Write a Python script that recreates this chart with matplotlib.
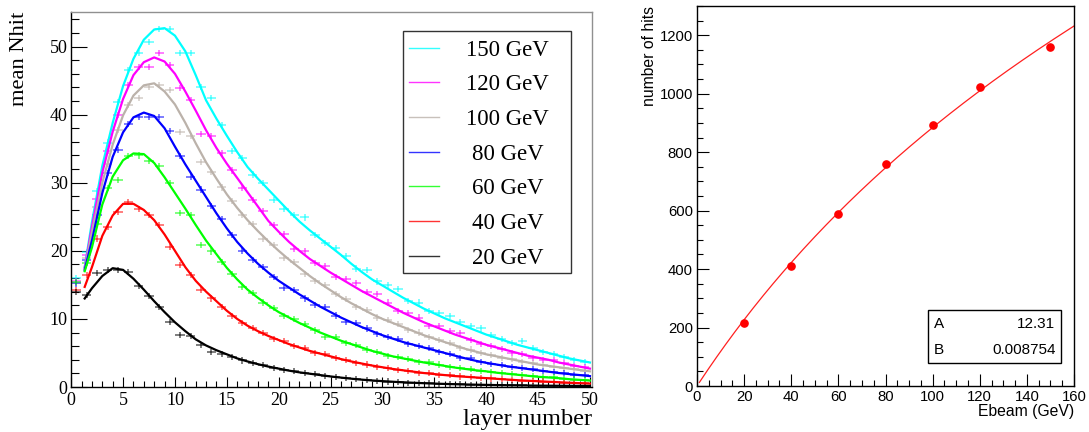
import numpy as np
import matplotlib
matplotlib.use('Agg')
import matplotlib.pyplot as plt
from matplotlib.ticker import MultipleLocator
from matplotlib.patches import Rectangle

# ---------------- data: left panel ----------------
labels = ['150 GeV', '120 GeV', '100 GeV', '80 GeV', '60 GeV', '40 GeV', '20 GeV']
colors = ['#00ffff', '#ff00ff', '#bbb2aa', '#0000ff', '#00ff00', '#ff0000', '#000000']

curve_layers = [1.3] + list(range(2, 51))
data_layers = [i + 0.5 for i in range(50)]

curve_150 = [17.6, 24.2, 32.5, 38.8, 44.2, 48.2, 51.0, 52.5, 52.7, 51.6,
             49.3, 45.8, 42.1, 39.4, 36.9, 34.5, 32.3, 30.6, 29.0, 27.4,
             25.8, 24.3, 23.0, 21.8, 20.6, 19.4, 18.1, 16.9, 15.8, 14.9,
             14.0, 13.1, 12.3, 11.5, 10.8, 10.1, 9.5, 8.9, 8.3, 7.7,
             7.2, 6.7, 6.2, 5.8, 5.4, 5.0, 4.6, 4.2, 3.9, 3.6]
curve_120 = [17.5, 23.5, 31.5, 37.5, 42.3, 45.8, 47.7, 48.4, 47.8, 46.0,
             43.4, 40.6, 37.7, 35.1, 32.8, 30.7, 28.6, 26.5, 24.4, 22.8,
             21.3, 20.0, 18.8, 17.8, 16.8, 15.9, 15.0, 14.1, 13.3, 12.5,
             11.7, 10.9, 10.2, 9.5, 8.9, 8.3, 7.7, 7.2, 6.7, 6.2,
             5.8, 5.4, 5.0, 4.6, 4.3, 4.0, 3.6, 3.3, 3.0, 2.7]
curve_100 = [17.3, 22.8, 30.0, 35.6, 39.9, 42.8, 44.3, 44.6, 43.4, 41.5,
             38.8, 35.8, 33.0, 30.6, 28.3, 26.3, 24.5, 22.9, 21.4, 20.0,
             18.7, 17.5, 16.3, 15.2, 14.2, 13.2, 12.3, 11.5, 10.7, 10.0,
             9.4, 8.8, 8.2, 7.6, 7.1, 6.6, 6.1, 5.6, 5.2, 4.8,
             4.5, 4.2, 3.9, 3.6, 3.3, 3.1, 2.9, 2.7, 2.5, 2.3]
curve_80 = [17.2, 21.5, 28.5, 33.8, 37.4, 39.6, 40.3, 39.8, 38.0, 35.3,
            32.7, 30.3, 27.9, 25.5, 23.3, 21.3, 19.6, 18.1, 16.8, 15.6,
            14.6, 13.6, 12.7, 11.8, 11.0, 10.2, 9.5, 8.8, 8.2, 7.6,
            7.1, 6.6, 6.2, 5.8, 5.4, 5.0, 4.6, 4.2, 3.85, 3.55,
            3.3, 3.05, 2.85, 2.65, 2.45, 2.25, 2.05, 1.9, 1.75, 1.6]
curve_60 = [17.0, 20.5, 26.8, 30.9, 33.3, 34.3, 34.2, 32.9, 30.8, 28.5,
            26.2, 23.8, 21.5, 19.5, 17.5, 15.8, 14.3, 13.1, 12.0, 11.0,
            10.2, 9.4, 8.7, 8.0, 7.4, 6.8, 6.3, 5.8, 5.3, 4.9,
            4.5, 4.2, 3.9, 3.6, 3.35, 3.1, 2.85, 2.65, 2.45, 2.3,
            2.1, 1.95, 1.8, 1.65, 1.5, 1.4, 1.3, 1.15, 1.05, 0.95]
curve_40 = [14.7, 17.6, 22.2, 25.2, 26.9, 26.9, 26.0, 24.5, 22.4, 20.0,
            17.6, 15.6, 14.0, 12.6, 11.2, 10.0, 9.0, 8.2, 7.5, 6.9,
            6.3, 5.8, 5.3, 4.9, 4.5, 4.1, 3.75, 3.45, 3.15, 2.9,
            2.65, 2.45, 2.25, 2.05, 1.9, 1.75, 1.6, 1.5, 1.4, 1.3,
            1.2, 1.1, 1.0, 0.92, 0.85, 0.77, 0.7, 0.63, 0.56, 0.5]
curve_20 = [13.0, 14.5, 16.3, 17.45, 17.2, 15.9, 14.3, 12.6, 11.0, 9.5,
            8.2, 7.0, 6.1, 5.4, 4.8, 4.2, 3.75, 3.35, 3.0, 2.7,
            2.4, 2.15, 1.95, 1.75, 1.55, 1.38, 1.22, 1.08, 0.96, 0.86,
            0.77, 0.69, 0.62, 0.56, 0.5, 0.45, 0.41, 0.37, 0.34, 0.31,
            0.28, 0.26, 0.24, 0.22, 0.2, 0.19, 0.18, 0.17, 0.16, 0.15]

data_150 = [16.0, 19.8, 28.8, 35.9, 41.8, 46.5, 49.0, 50.7, 52.6, 52.6,
            49.0, 49.0, 44.1, 42.4, 38.5, 34.6, 33.6, 31.2, 29.9, 27.5,
            26.2, 25.3, 24.9, 22.3, 21.2, 20.4, 19.2, 17.4, 17.2, 15.5,
            15.0, 14.4, 12.6, 12.4, 11.2, 10.9, 10.4, 9.5, 8.9, 8.6,
            7.6, 7.1, 6.4, 6.8, 5.7, 5.2, 4.8, 4.4, 4.0, 3.7]
data_120 = [15.6, 19.4, 27.6, 34.6, 40.0, 44.3, 47.0, 47.0, 49.0, 47.3,
            43.9, 42.1, 37.2, 36.8, 34.3, 31.8, 29.2, 27.4, 25.9, 23.8,
            22.4, 20.3, 19.9, 18.2, 17.7, 16.1, 15.8, 15.3, 13.9, 13.6,
            12.4, 11.2, 10.9, 10.2, 9.0, 8.9, 8.2, 7.9, 6.9, 6.3,
            6.0, 5.6, 5.0, 4.8, 4.3, 4.0, 3.9, 3.5, 3.1, 2.9]
data_100 = [15.3, 18.9, 26.4, 32.8, 37.8, 41.4, 42.5, 44.0, 44.3, 43.6,
            37.5, 36.8, 33.1, 31.6, 29.3, 27.3, 25.2, 23.9, 21.8, 20.9,
            19.0, 18.4, 16.6, 15.6, 15.0, 13.6, 12.9, 11.7, 11.3, 10.2,
            9.8, 9.2, 8.4, 8.0, 7.3, 6.9, 6.4, 5.7, 5.5, 5.0,
            4.7, 4.3, 4.1, 3.7, 3.5, 3.2, 3.0, 2.8, 2.6, 2.4]
data_80 = [15.2, 18.6, 25.3, 31.4, 34.8, 38.6, 39.6, 39.6, 39.6, 37.6,
           33.9, 30.9, 29.0, 26.6, 24.7, 22.3, 20.0, 18.7, 17.6, 16.1,
           14.6, 14.3, 13.0, 12.1, 11.7, 10.5, 9.6, 9.4, 8.6, 7.8,
           7.4, 7.0, 6.3, 6.0, 5.7, 5.1, 4.8, 4.3, 4.2, 3.7,
           3.4, 3.2, 2.9, 2.8, 2.6, 2.3, 2.2, 2.0, 1.8, 1.7]
data_60 = [15.4, 18.2, 24.0, 29.2, 30.4, 33.9, 34.0, 33.2, 32.5, 29.9,
           25.5, 25.3, 20.9, 19.9, 18.4, 16.6, 14.7, 13.8, 12.4, 11.6,
           10.4, 10.0, 9.3, 8.3, 7.4, 7.3, 6.4, 6.2, 5.5, 5.2,
           4.6, 4.4, 4.1, 3.7, 3.6, 3.3, 2.9, 2.8, 2.6, 2.3,
           2.2, 2.1, 1.9, 1.7, 1.6, 1.5, 1.4, 1.2, 1.1, 1.0]
data_40 = [14.2, 16.5, 21.8, 23.5, 25.7, 27.2, 26.2, 25.3, 23.8, 20.6,
           17.9, 16.4, 14.3, 13.0, 11.8, 10.4, 9.4, 8.7, 7.9, 7.1,
           6.8, 6.0, 5.7, 5.0, 4.8, 4.3, 4.0, 3.5, 3.3, 3.0,
           2.8, 2.5, 2.4, 2.1, 2.0, 1.8, 1.7, 1.55, 1.45, 1.35,
           1.25, 1.15, 1.05, 0.95, 0.9, 0.8, 0.72, 0.65, 0.6, 0.52]
data_20 = [14.0, 13.5, 16.7, 17.2, 17.2, 16.9, 14.8, 13.3, 11.8, 9.6,
           7.6, 7.5, 6.2, 5.2, 4.9, 4.4, 3.9, 3.5, 3.2, 2.8,
           2.5, 2.3, 2.0, 1.85, 1.6, 1.5, 1.3, 1.15, 1.0, 0.9,
           0.8, 0.72, 0.65, 0.6, 0.52, 0.48, 0.43, 0.39, 0.35, 0.32,
           0.3, 0.27, 0.25, 0.23, 0.21, 0.2, 0.19, 0.17, 0.16, 0.15]

curves = [curve_150, curve_120, curve_100, curve_80, curve_60, curve_40, curve_20]
datas = [data_150, data_120, data_100, data_80, data_60, data_40, data_20]

# ---------------- data: right panel ----------------
ebeam = [20, 40, 60, 80, 100, 120, 150]
nhits = [216, 411, 590, 758, 893, 1023, 1161]
fit_A = 12.31
fit_B = 0.008754

SERIF = ['Liberation Serif', 'DejaVu Serif']
SANS = ['Liberation Sans', 'DejaVu Sans']

W, H = 1089, 432
fig = plt.figure(figsize=(W / 100, H / 100), dpi=100)

def fx(px):
    return px / W

def fy(py):
    return 1 - py / H

# ======== left panel ========
L0, R0, T0, B0 = 71.2, 592.0, 12.0, 387.0
ax1 = fig.add_axes([fx(L0), fy(B0), (R0 - L0) / W, (B0 - T0) / H])
ax1.set_xlim(0, 50.2)
ax1.set_ylim(0, 55.07)

for c_y, d_y, col in zip(curves, datas, colors):
    ax1.errorbar(data_layers, d_y, xerr=0.45, yerr=0.45, fmt='none',
                 ecolor=col, elinewidth=1.3, alpha=0.55, capsize=0, zorder=2)
    ax1.plot(curve_layers, c_y, color=col, lw=1.6, zorder=3,
             solid_joinstyle='round')

ax1.xaxis.set_major_locator(MultipleLocator(5))
ax1.xaxis.set_minor_locator(MultipleLocator(1))
ax1.yaxis.set_major_locator(MultipleLocator(10))
ax1.yaxis.set_minor_locator(MultipleLocator(2))
ax1.tick_params(axis='both', which='both', direction='in', top=False, right=False)
ax1.tick_params(axis='x', which='major', length=7.5, width=0.8, pad=3.5)
ax1.tick_params(axis='x', which='minor', length=4.0, width=0.8)
ax1.tick_params(axis='y', which='major', length=11.5, width=0.8, pad=2.5)
ax1.tick_params(axis='y', which='minor', length=6.0, width=0.8)
for lab in ax1.get_xticklabels() + ax1.get_yticklabels():
    lab.set_fontfamily(SERIF)
    lab.set_fontsize(13)
for sp in ['top', 'right']:
    ax1.spines[sp].set_color('#909090')
for sp in ax1.spines.values():
    sp.set_linewidth(1.0)

def ax1x(px):
    return (px - L0) / (R0 - L0)

def ax1y(py):
    return (B0 - py) / (B0 - T0)

ax1.set_ylabel('mean Nhit', fontfamily=SERIF, fontsize=16.2, loc='top')
ax1.yaxis.set_label_coords(ax1x(29), 1.0)
ax1.set_xlabel('layer number', fontfamily=SERIF, fontsize=17.5, loc='right')
ax1.xaxis.set_label_coords(1.0, ax1y(408.5))

# legend drawn as a framed box inside the axes
lg_left, lg_right, lg_top, lg_bot = 403, 571, 30.7, 273
ax1.add_patch(Rectangle((ax1x(lg_left), ax1y(lg_bot)),
                        ax1x(lg_right) - ax1x(lg_left), ax1y(lg_top) - ax1y(lg_bot),
                        transform=ax1.transAxes, facecolor='white',
                        edgecolor='#333333', lw=1.0, zorder=5))
row0, pitch = 47.7, 34.65
for i, (lab, col) in enumerate(zip(labels, colors)):
    yy = ax1y(row0 + i * pitch)
    ax1.plot([ax1x(409), ax1x(439)], [yy, yy], transform=ax1.transAxes,
             color=col, lw=1.0, alpha=0.8, zorder=6)
    ax1.text(ax1x(507.5), yy, lab, transform=ax1.transAxes, ha='center',
             va='center_baseline', fontfamily=SERIF, fontsize=16.5, zorder=6)

# ======== right panel ========
L1, R1, T1, B1 = 697.0, 1074.0, 6.0, 386.0
ax2 = fig.add_axes([fx(L1), fy(B1), (R1 - L1) / W, (B1 - T1) / H])
ax2.set_xlim(0, 160)
ax2.set_ylim(0, 1300)

e_line = np.linspace(1, 160, 300)
ax2.plot(e_line, fit_A / fit_B * np.log(1 + fit_B * e_line), color='#ff2020', lw=0.9)
ax2.plot(ebeam, nhits, 'o', color='#ff0000', ms=5.2, mec='#ff0000')

ax2.xaxis.set_major_locator(MultipleLocator(20))
ax2.xaxis.set_minor_locator(MultipleLocator(5))
ax2.yaxis.set_major_locator(MultipleLocator(200))
ax2.yaxis.set_minor_locator(MultipleLocator(50))
ax2.tick_params(axis='both', which='both', direction='in', top=False, right=False)
ax2.tick_params(axis='both', which='major', length=8.5, width=0.8, pad=3)
ax2.tick_params(axis='both', which='minor', length=4.3, width=0.8)
for lab in ax2.get_xticklabels() + ax2.get_yticklabels():
    lab.set_fontfamily(SANS)
    lab.set_fontsize(10.7)
for sp in ax2.spines.values():
    sp.set_linewidth(1.0)

def ax2x(px):
    return (px - L1) / (R1 - L1)

def ax2y(py):
    return (B1 - py) / (B1 - T1)

ax2.set_ylabel('number of hits', fontfamily=SANS, fontsize=11.3, loc='top')
ax2.yaxis.set_label_coords(ax2x(657), 1.0)
ax2.set_xlabel('Ebeam (GeV)', fontfamily=SANS, fontsize=11.3, loc='right')
ax2.xaxis.set_label_coords(1.0, ax2y(404))

ax2.add_patch(Rectangle((ax2x(928), ax2y(362.7)), ax2x(1061) - ax2x(928),
                        ax2y(310) - ax2y(362.7), transform=ax2.transAxes,
                        facecolor='white', edgecolor='black', lw=1.0, zorder=5))
for name, val, py in [('A', f'{fit_A:.2f}', 324), ('B', f'{fit_B:.6f}', 350)]:
    ax2.text(ax2x(934), ax2y(py), name, transform=ax2.transAxes, ha='left',
             va='center', fontfamily=SANS, fontsize=11, zorder=6)
    ax2.text(ax2x(1055.5), ax2y(py), val, transform=ax2.transAxes, ha='right',
             va='center', fontfamily=SANS, fontsize=11, zorder=6)

fig.savefig('out.png', dpi=100)
